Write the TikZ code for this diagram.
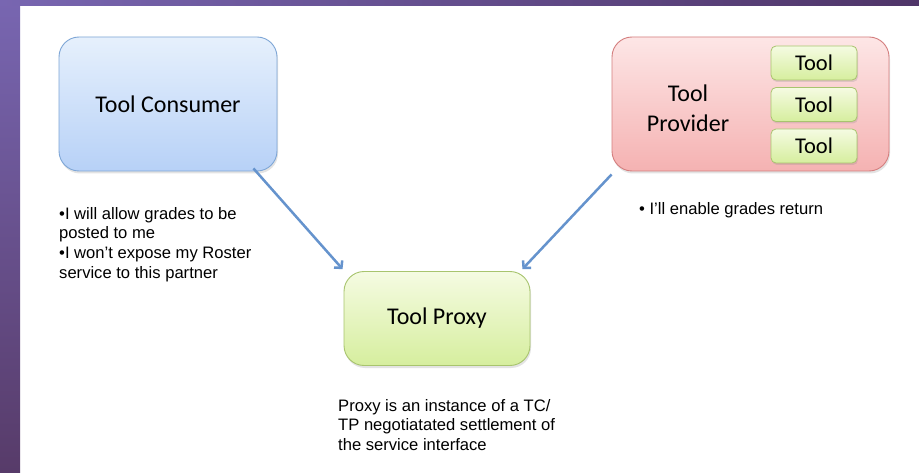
\documentclass[tikz,border=0pt]{standalone}
\usepackage{fontspec}
\setmainfont{Liberation Sans}
\newfontfamily\calib{Carlito}
\usetikzlibrary{shadows,arrows.meta,calc}
\definecolor{bluetop}{HTML}{E6F0FC}
\definecolor{bluebot}{HTML}{B7D1F7}
\definecolor{blueedge}{HTML}{7EA6D6}
\definecolor{redtop}{HTML}{FDE6E6}
\definecolor{redbot}{HTML}{F5B2B2}
\definecolor{rededge}{HTML}{D47E7E}
\definecolor{greentop}{HTML}{F5FBE2}
\definecolor{greenbot}{HTML}{D6EE9E}
\definecolor{greenedge}{HTML}{A8C46E}
\definecolor{arrowc}{HTML}{6593CD}
\definecolor{purpA}{HTML}{7866B1}
\definecolor{purpB}{HTML}{573B69}
\definecolor{purpC}{HTML}{4F3568}
\tikzset{
  boxbase/.style={draw, line width=0.9pt, rounded corners=20pt, align=center,
    drop shadow={opacity=0.22, shadow xshift=1pt, shadow yshift=-2.5pt},
    font=\calib\fontsize{24}{30}\selectfont},
  bluebox/.style={boxbase, draw=blueedge, top color=bluetop, bottom color=bluebot},
  redbox/.style={boxbase, draw=rededge, top color=redtop, bottom color=redbot},
  greenbox/.style={boxbase, draw=greenedge, top color=greentop, bottom color=greenbot},
  toolbox/.style={draw=greenedge, line width=0.8pt, rounded corners=5pt,
    top color=greentop, bottom color=greenbot, minimum width=86pt, minimum height=34pt,
    inner sep=0pt, drop shadow={opacity=0.22, shadow xshift=1pt, shadow yshift=-2pt},
    font=\calib\fontsize{22.5}{27}\selectfont},
  note/.style={anchor=north west, inner sep=0pt, align=left,
    font=\fontsize{16.6}{19.6}\selectfont},
  conn/.style={draw=arrowc, line width=2.5pt, -{Straight Barb[length=5pt,width=11pt]}}
}
\begin{document}
\begin{tikzpicture}[x=1pt,y=-1pt]
\useasboundingbox (0,0) rectangle (919,473);
\fill[white] (0,0) rectangle (919,473);
\shade[top color=purpA, bottom color=purpB] (0,0) rectangle (20,473);
\shade[left color=purpA, right color=purpC] (0,0) rectangle (919,6);

\node[bluebox, minimum width=218pt, minimum height=134pt] (tc) at (168,104) {Tool Consumer};
\node[redbox, minimum width=277pt, minimum height=134pt] (tp) at (750.5,104) {};
\node[font=\calib\fontsize{24}{30}\selectfont, align=center] (tpl) at (688,108) {Tool\\Provider};
\node[toolbox] (t1) at (814,63) {Tool};
\node[toolbox] (t2) at (814,104.5) {Tool};
\node[toolbox] (t3) at (814,146) {Tool};
\node[greenbox, minimum width=186pt, minimum height=94pt] (px) at (437,318.5) {\raisebox{-3pt}{Tool Proxy}};

\draw[conn] ($(tc.south east)+(-24,-3)$) -- ($(px.north west)+(-1,-2)$);
\draw[conn] ($(tp.south west)+(0,3)$) -- ($(px.north east)+(-8,-2)$);

\node[note] (n1) at (59,207) {•I will allow grades to be\\posted to me\\•I won’t expose my Roster\\service to this partner};
\node[note] (n2) at (639,202) {• I’ll enable grades return};
\node[note] (n3) at (338,399) {Proxy is an instance of a TC/\\TP negotiatated settlement of\\the service interface};
\end{tikzpicture}
\end{document}
